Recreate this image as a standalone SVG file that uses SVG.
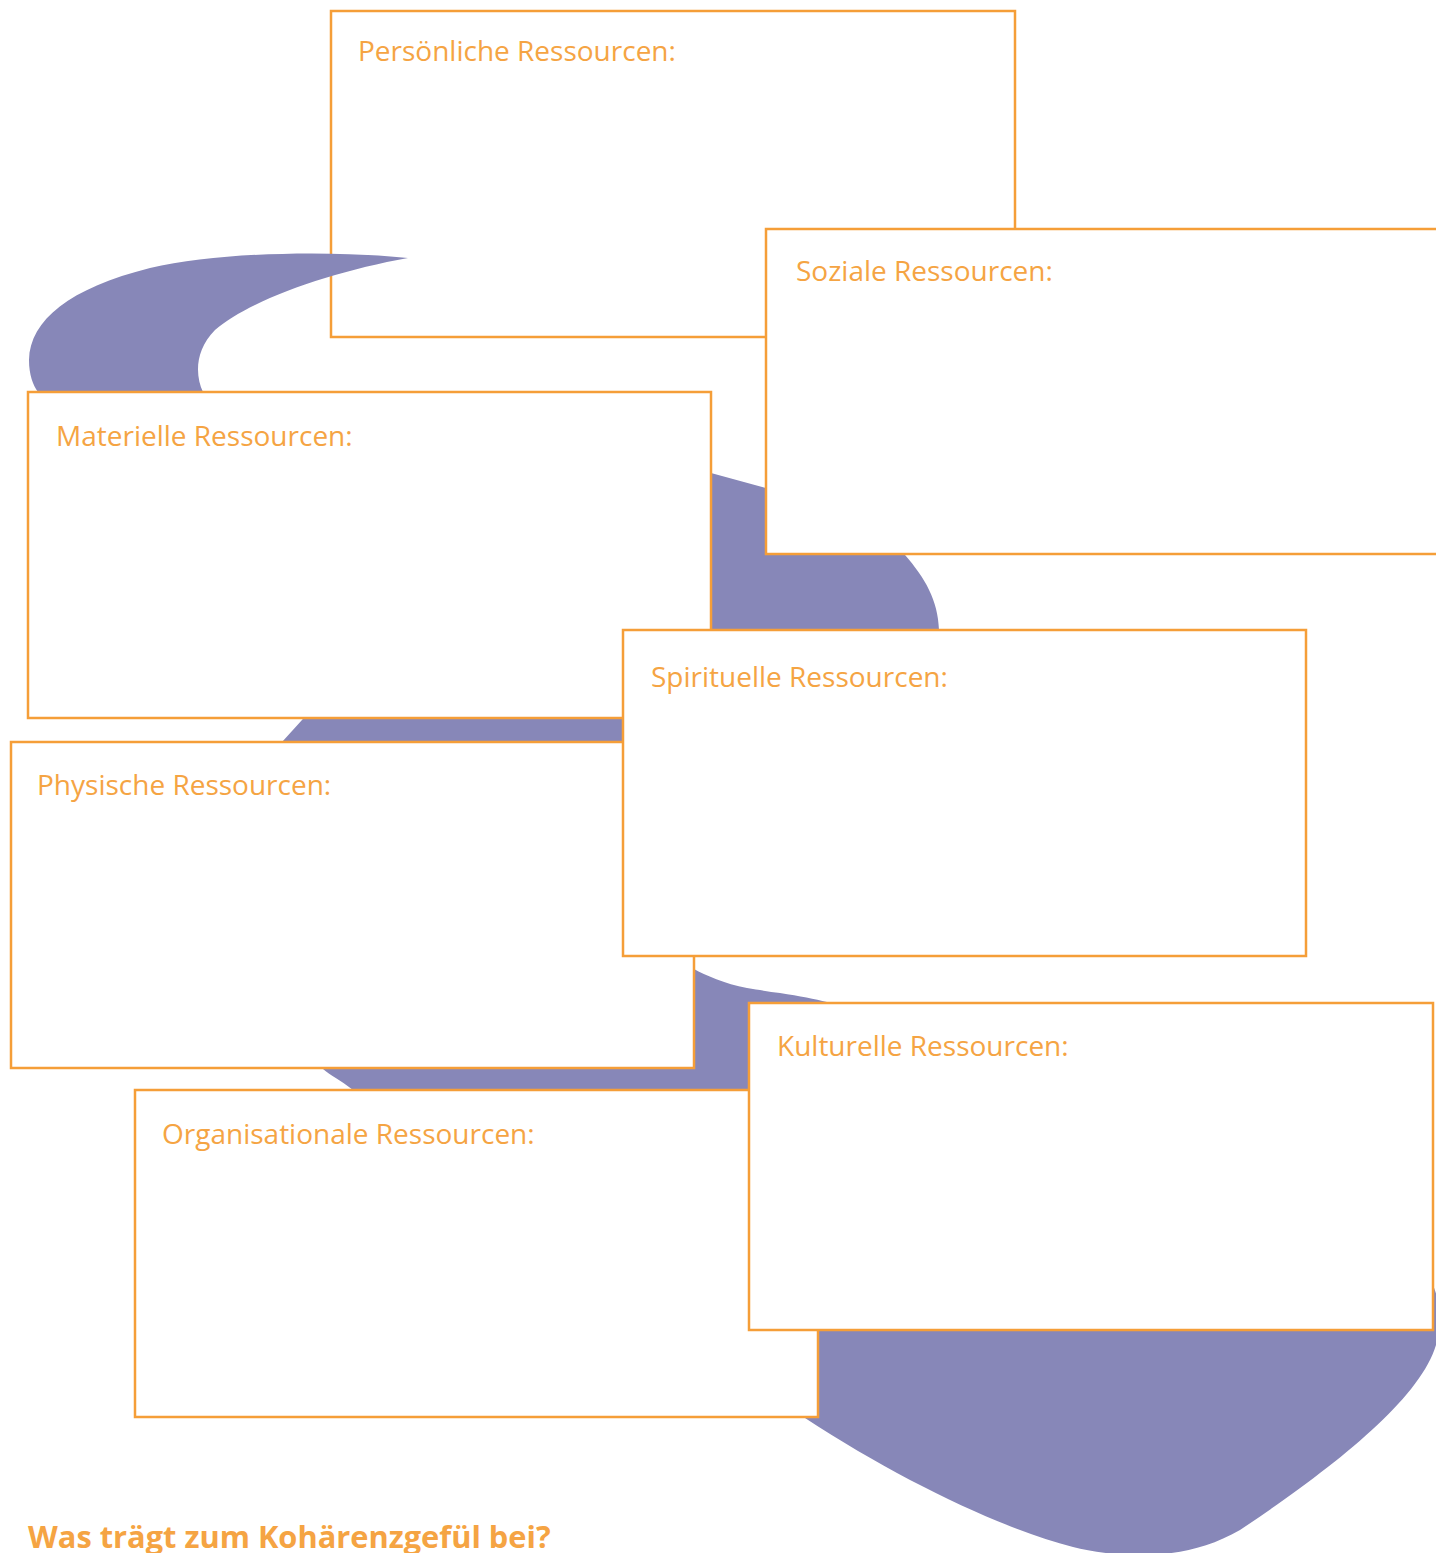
<svg xmlns="http://www.w3.org/2000/svg" width="1436" height="1553" viewBox="0 0 1436 1553">
<style>
.box{fill:#ffffff;stroke:#F59E38;stroke-width:2.5}
.lbl{font-family:"Open Sans","Liberation Sans",sans-serif;font-size:28px;fill:#F5A443}
.ttl{font-family:"Open Sans","Liberation Sans",sans-serif;font-size:30.8px;font-weight:bold;fill:#F5A443}
</style>
<rect width="1436" height="1553" fill="#ffffff"/>
<g id="persoenliche">
<rect class="box" x="331" y="11" width="684" height="326"/>
<text class="lbl" x="358" y="61">Persönliche Ressourcen:</text>
</g>
<g id="blob">
<path fill="#8787B8" d="M408,258 C330,272 250,300 215,330 C195,350 195,375 203,392 C220,440 500,420 711,473 L766,488 C840,510 880,530 905,555 C925,578 938,600 939,630 C940,760 640,850 650,930 C660,955 680,965 694,969 C705,975 725,984 747,988 C760,990 770,992 780,993 C800,996 815,999 827,1002 C1300,1080 1470,1250 1436,1345 C1420,1400 1330,1470 1240,1530 C1180,1565 1110,1556 1073,1547 C1000,1528 900,1480 805,1418 C600,1290 420,1150 353,1090 C340,1080 330,1075 323,1069 C250,1020 200,900 230,800 C245,775 265,758 282,742 L302,720 C380,640 300,520 150,470 C80,445 45,420 38,392 C33,385 29,375 29,360 C30,320 70,288 150,268 C220,252 330,250 408,258 Z"/>
</g>
<g id="soziale">
<rect class="box" x="766" y="229" width="684" height="325"/>
<text class="lbl" x="796" y="281">Soziale Ressourcen:</text>
</g>
<g id="materielle">
<rect class="box" x="28" y="392" width="683" height="326"/>
<text class="lbl" x="56" y="446">Materielle Ressourcen:</text>
</g>
<g id="physische">
<rect class="box" x="11" y="742" width="683" height="326"/>
<text class="lbl" x="37" y="795">Physische Ressourcen:</text>
</g>
<g id="spirituelle">
<rect class="box" x="623" y="630" width="683" height="326"/>
<text class="lbl" x="651" y="687">Spirituelle Ressourcen:</text>
</g>
<g id="organisationale">
<rect class="box" x="135" y="1090" width="683" height="327"/>
<text class="lbl" x="162" y="1144">Organisationale Ressourcen:</text>
</g>
<g id="kulturelle">
<rect class="box" x="749" y="1003" width="684" height="327"/>
<text class="lbl" x="777" y="1056">Kulturelle Ressourcen:</text>
</g>
<g id="connectors"></g>
<text class="ttl" x="28" y="1548">Was trägt zum Kohärenzgefül bei?</text>
</svg>
